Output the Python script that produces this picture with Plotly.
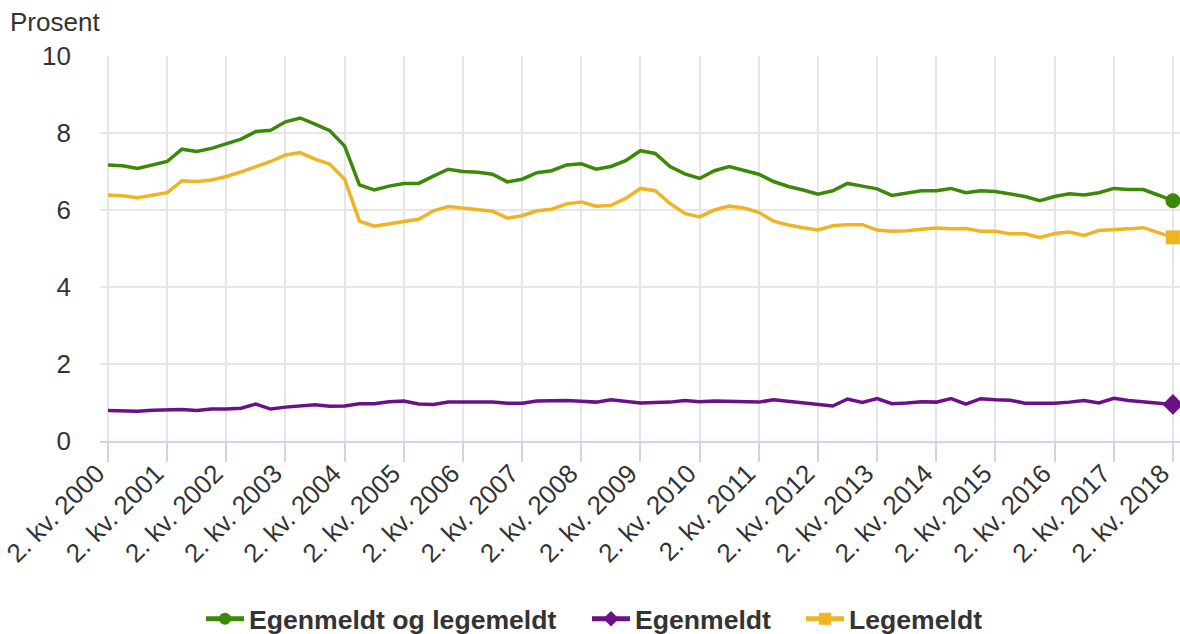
import plotly.graph_objects as go

years = list(range(2000, 2019))
quarters = []
for y in years:
    for q in (1, 2, 3, 4):
        if (y == 2000 and q < 2) or (y == 2018 and q > 2):
            continue
        quarters.append(f"{q}. kv. {y}")

tick_labels = [f"2. kv. {y}" for y in years]

egen_og_lege = [7.17, 7.15, 7.08, 7.16, 7.26, 7.58, 7.52, 7.60, 7.71, 7.84, 8.04, 8.07, 8.29, 8.39, 8.23, 8.06,
                7.66, 6.65, 6.52, 6.62, 6.69, 6.69, 6.88, 7.06, 7.00, 6.98, 6.93, 6.73, 6.80, 6.97, 7.02, 7.17,
                7.20, 7.06, 7.13, 7.28, 7.54, 7.47, 7.13, 6.94, 6.82, 7.02, 7.13, 7.02, 6.93, 6.74, 6.61, 6.52,
                6.41, 6.50, 6.69, 6.62, 6.55, 6.38, 6.43, 6.50, 6.50, 6.56, 6.45, 6.50, 6.48, 6.41, 6.35, 6.24,
                6.35, 6.42, 6.39, 6.45, 6.56, 6.53, 6.53, 6.39, 6.24]

egenmeldt = [0.79, 0.79, 0.77, 0.80, 0.82, 0.82, 0.79, 0.83, 0.83, 0.85, 0.96, 0.83, 0.88, 0.90, 0.94, 0.90,
             0.91, 0.97, 0.97, 1.02, 1.04, 0.96, 0.95, 1.01, 1.01, 1.00, 1.01, 0.98, 0.98, 1.04, 1.05, 1.05,
             1.03, 1.01, 1.07, 1.02, 0.99, 1.00, 1.01, 1.05, 1.02, 1.04, 1.03, 1.00, 1.01, 1.07, 1.03, 1.01,
             0.96, 0.91, 1.09, 1.00, 1.10, 0.97, 0.99, 1.02, 1.01, 1.10, 0.96, 1.10, 1.07, 1.06, 0.98, 0.97,
             0.98, 1.01, 1.05, 0.99, 1.11, 1.05, 1.02, 1.00, 0.95]

legemeldt = [6.39, 6.37, 6.32, 6.38, 6.45, 6.76, 6.74, 6.78, 6.87, 6.99, 7.12, 7.26, 7.43, 7.49, 7.32, 7.19,
             6.80, 5.71, 5.58, 5.65, 5.70, 5.76, 5.98, 6.09, 6.05, 6.03, 5.97, 5.79, 5.85, 5.98, 6.02, 6.16,
             6.21, 6.10, 6.12, 6.30, 6.56, 6.50, 6.17, 5.91, 5.82, 6.00, 6.10, 6.05, 5.94, 5.71, 5.61, 5.54,
             5.48, 5.59, 5.62, 5.62, 5.48, 5.45, 5.46, 5.50, 5.53, 5.51, 5.52, 5.45, 5.45, 5.38, 5.38, 5.29,
             5.39, 5.43, 5.34, 5.47, 5.48, 5.51, 5.54, 5.41, 5.29]

series = [
    ("Egenmeldt og legemeldt", egen_og_lege, "#3b8a07", "circle", 15, "legend", 201),
    ("Egenmeldt", egenmeldt, "#6c1089", "diamond", 16, "legend2", 587),
    ("Legemeldt", legemeldt, "#efb324", "square", 14, "legend3", 801),
]

W, H = 1180, 634
FONT = "Liberation Sans, Arial, sans-serif"
fig = go.Figure()
legend_layout = {}
for name, vals, color, sym, msize, leg, lx in series:
    sizes = [0] * (len(vals) - 1) + [msize]
    fig.add_trace(go.Scatter(
        x=quarters, y=vals, name=name, mode="lines+markers",
        line=dict(color=color, width=3.5),
        marker=dict(color=color, symbol=sym, size=sizes, opacity=1, line=dict(width=0)),
        cliponaxis=False, legend=leg,
    ))
    legend_layout[leg] = dict(
        orientation="h", xref="container", yref="container",
        x=lx / W, xanchor="left", y=(H - 619) / H, yanchor="middle",
        font=dict(family=FONT, size=26.6, color="#333333", weight="bold"),
        itemsizing="constant", itemwidth=38, bgcolor="rgba(0,0,0,0)", borderwidth=0,
    )

fig.update_layout(
    width=W, height=H,
    margin=dict(l=100, r=0, t=56, b=193, autoexpand=False),
    paper_bgcolor="white", plot_bgcolor="white",
    font=dict(family=FONT, color="#333333", size=26),
    showlegend=True,
    annotations=[dict(text="Prosent", xref="paper", yref="paper", x=-92 / 1080, y=1 + 34 / 385,
                      xanchor="left", yanchor="middle", showarrow=False,
                      font=dict(family=FONT, size=26, color="#333333"))],
    **legend_layout,
)
fig.update_xaxes(
    type="category", categoryorder="array", categoryarray=quarters,
    range=[-0.54, 72.48], automargin=False,
    tickmode="array", tickvals=tick_labels, ticktext=tick_labels,
    tickangle=-45, tickfont=dict(family=FONT, size=26, color="#333333"),
    ticklabelstandoff=-14, ticklabelshift=-11,
    showgrid=True, gridcolor="#e6e6e6", gridwidth=2,
    showline=True, linecolor="#ccd6eb", linewidth=2,
    ticks="outside", ticklen=19, tickcolor="#ccd6eb", tickwidth=2,
    zeroline=False,
)
fig.update_yaxes(
    range=[0, 10], tickvals=[0, 2, 4, 6, 8, 10], automargin=False,
    tickfont=dict(family=FONT, size=26, color="#333333"),
    showgrid=True, gridcolor="#e6e6e6", gridwidth=2,
    zeroline=False, showline=False, ticks="", ticklabelstandoff=28,
)

fig.write_html("out.html", config={"displayModeBar": False},
               post_script="document.body.style.margin='0px';document.body.style.overflow='hidden';")
